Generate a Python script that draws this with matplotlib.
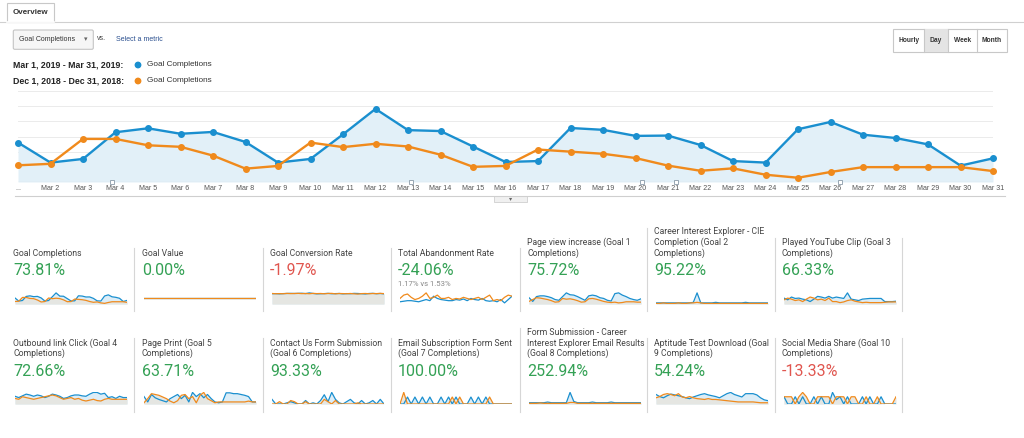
import matplotlib
matplotlib.use("Agg")
import matplotlib.pyplot as plt
from matplotlib.patches import Rectangle, FancyBboxPatch, Circle

W, H = 1024, 438
BLUE = '#1a8fcf'
ORANGE = '#f08a1c'
GREEN = '#34a155'
RED = '#e0564f'

plt.rcParams['font.family'] = ['Liberation Sans', 'DejaVu Sans']

# ---- main chart data (goal completions per day) ----
days = list(range(1, 32))
day_labels = ['...'] + ['Mar %d' % d for d in range(2, 32)]
mar_2019 = [13, 6.4, 7.6, 16.4, 17.7, 15.9, 16.5, 13.2, 6.4, 7.6, 15.7, 24.1, 17.1, 16.8, 11.7, 6.6,
            6.9, 17.8, 17.2, 15.2, 15.3, 12.2, 6.9, 6.4, 17.4, 19.8, 15.6, 14.5, 12.4, 5.4, 7.8]
dec_2018 = [5.5, 6, 14.2, 14.2, 12.1, 11.6, 8.7, 4.4, 5.3, 13, 11.5, 12.6, 11.7, 9, 5, 5.3,
            10.7, 10, 9.3, 7.9, 5.4, 3.7, 4.5, 2.4, 1.4, 3.3, 4.9, 4.9, 4.9, 4.9, 3.6]
annotation_days = [3.9, 13.1, 20.2, 21.25, 26.3]

# ---- scorecards ----
card_titles = [
    'Goal Completions', 'Goal Value', 'Goal Conversion Rate', 'Total Abandonment Rate',
    'Page view increase (Goal 1\nCompletions)',
    'Career Interest Explorer - CIE\nCompletion (Goal 2\nCompletions)',
    'Played YouTube Clip (Goal 3\nCompletions)',
    'Outbound link Click (Goal 4\nCompletions)',
    'Page Print (Goal 5\nCompletions)',
    'Contact Us Form Submission\n(Goal 6 Completions)',
    'Email Subscription Form Sent\n(Goal 7 Completions)',
    'Form Submission - Career\nInterest Explorer Email Results\n(Goal 8 Completions)',
    'Aptitude Test Download (Goal\n9 Completions)',
    'Social Media Share (Goal 10\nCompletions)',
]
card_changes = ['73.81%', '0.00%', '-1.97%', '-24.06%', '75.72%', '95.22%', '66.33%',
                '72.66%', '63.71%', '93.33%', '100.00%', '252.94%', '54.24%', '-13.33%']
card_good = [True, True, False, True, True, True, True,
             True, True, True, True, True, True, False]
abandon_note = '1.17% vs 1.53%'

# sparkline series (current month / previous period)
value_mar = [0] * 31
value_dec = [0] * 31
conv_mar = [8.6, 8.7, 8.5, 8.7, 8.8, 8.9, 8.8, 8.9, 9.0, 8.7, 9.3, 8.8, 8.5, 8.6, 8.7, 8.9,
            8.6, 8.7, 8.8, 8.5, 8.7, 8.6, 8.9, 8.8, 8.6, 8.4, 8.8, 8.9, 8.6, 8.8, 8.5]
conv_dec = [8.8, 8.6, 8.7, 8.6, 8.9, 8.7, 8.8, 8.9, 8.7, 8.8, 8.6, 8.9, 8.7, 8.8, 8.6, 8.8,
            8.9, 8.5, 8.8, 8.7, 8.6, 8.8, 8.5, 8.3, 8.7, 8.8, 8.6, 8.8, 8.7, 8.9, 8.7]
aband_mar = [2, 2.5, 3, 3, 2.5, 2, 3, 4, 3, 7, 5, 4, 3.5, 3, 3, 4,
             3.5, 4.5, 3, 5, 4, 3.5, 5, 3, 2.5, 3, 2, 4, 1, 4, 7]
aband_dec = [5, 8, 9, 6, 4, 5, 7, 10, 5, 6, 8, 5, 5, 6, 4, 5,
             4.5, 6, 5, 4, 5, 6, 4, 6, 8, 3, 4, 3, 6, 8, 7]
g1_mar = [17, 7, 20, 22, 22, 20, 17, 12, 10, 20, 30, 25, 24, 20, 15, 10,
          22, 24, 22, 17, 15, 10, 8, 28, 30, 24, 20, 15, 12, 10, 14]
g1_dec = [7, 12, 17, 16, 14, 12, 9, 5, 6, 15, 13, 14, 12, 9, 5, 6,
          14, 15, 13, 10, 7, 5, 4, 5, 3, 4, 6, 6, 6, 5, 5]
g2_mar = [1, 1, 1, 1, 1, 1, 1, 1, 1, 1, 1.5, 10, 1, 1, 1, 1,
          1.5, 1, 1, 1, 1, 1, 1, 1, 1.5, 1, 1, 1, 1, 1, 1]
g2_dec = [0.5, 0.5, 1, 0.5, 0.5, 0.5, 1, 0.5, 0.5, 1, 1, 1.5, 1, 0.5, 0.5, 0.5,
          0.5, 0.5, 0.5, 0.5, 0.5, 0.5, 0.5, 0.5, 0.5, 0.5, 0.5, 0.5, 0.5, 0.5, 0.5]
g3_mar = [17, 12, 20, 16, 17, 14, 12, 7, 14, 22, 20, 17, 22, 17, 20, 18,
          16, 32, 14, 12, 10, 14, 15, 16, 16, 16, 16, 7, 7, 7, 8]
g3_dec = [12, 17, 14, 10, 12, 7, 14, 20, 17, 12, 14, 10, 17, 7, 7, 4,
          6, 10, 12, 8, 6, 4, 5, 4, 4, 4, 4, 5, 6, 6, 6]
g4_mar = [18, 15, 19, 23, 21, 18, 21, 19, 15, 18, 23, 21, 18, 13, 15, 19,
          21, 21, 19, 18, 23, 27, 27, 23, 25, 15, 17, 13, 18, 15, 15]
g4_dec = [13, 11, 17, 15, 13, 11, 13, 15, 17, 19, 21, 19, 15, 11, 13, 15,
          11, 13, 9, 7, 9, 11, 8, 7, 11, 13, 11, 11, 11, 11, 11]
g5_mar = [18, 5, 23, 15, 11, 8, 5, 13, 18, 23, 13, 21, 5, 28, 18, 25,
          15, 23, 13, 5, 3, 5, 27, 27, 25, 25, 23, 21, 18, 5, 5]
g5_dec = [3, 13, 25, 23, 21, 17, 13, 7, 3, 8, 21, 23, 13, 18, 3, 21,
          28, 13, 8, 3, 5, 5, 5, 5, 5, 5, 5, 5, 7, 5, 5]
g6_mar = [4, 0, 0, 0, 1, 2, 1, 0, 0, 3, 0, 1, 0, 3, 8, 2,
          10, 4, 1, 0, 2, 4, 1, 0, 3, 0, 1, 3, 0, 4, 0]
g6_dec = [0, 0, 2, 0, 0, 3, 2, 0, 0, 2, 0, 0, 0, 0, 4, 2,
          0, 3, 0, 0, 0, 0, 0, 1, 0, 0, 0, 0, 0, 0, 0]
g7_mar = [0, 0, 6, 0, 6, 0, 6, 0, 6, 0, 0, 6, 0, 6, 0, 6,
          0, 0, 0, 6, 0, 6, 0, 6, 0, 0, 0, 0, 0, 0, 0]
g7_dec = [0, 10, 0, 0, 0, 0, 0, 0, 0, 0, 0, 0, 0, 0, 6, 0,
          6, 0, 0, 0, 0, 0, 0, 0, 6, 0, 0, 0, 0, 0, 0]
g8_mar = [1, 1, 1, 1, 1, 1.5, 1, 1, 1, 1, 1, 9, 2, 1, 1, 1,
          1, 1.5, 1, 1, 1, 1, 1.5, 1, 1, 1, 1, 1, 1, 1, 1]
g8_dec = [0.5, 0.5, 0.5, 0.8, 0.5, 0.5, 0.5, 0.5, 0.5, 0.5, 0.5, 1.2, 1.2, 0.5, 0.5, 0.5,
          0.5, 0.5, 0.5, 0.5, 0.5, 0.5, 0.5, 0.5, 0.5, 0.5, 0.5, 0.5, 0.5, 0.5, 0.5]
g9_mar = [23, 18, 15, 20, 24, 22, 20, 18, 15, 13, 17, 20, 23, 25, 22, 20,
          18, 15, 20, 25, 28, 23, 20, 17, 25, 25, 25, 22, 15, 10, 8]
g9_dec = [15, 18, 23, 25, 23, 20, 25, 17, 15, 18, 15, 13, 12, 11, 13, 11,
          11, 10, 9, 8, 7, 6, 5, 5, 5, 5, 5, 4, 3, 3, 3]
g10_mar = [5, 0, 0, 5, 0, 5, 0, 0, 5, 0, 5, 0, 0, 8, 3, 5,
           0, 5, 0, 0, 0, 5, 0, 5, 0, 0, 5, 0, 0, 0, 0]
g10_dec = [5, 5, 5, 0, 5, 8, 5, 0, 0, 5, 5, 5, 5, 0, 5, 5,
           5, 0, 5, 5, 0, 0, 5, 0, 0, 5, 0, 0, 0, 0, 5]

spark_pairs = [
    (mar_2019, dec_2018), (value_mar, value_dec), (conv_mar, conv_dec), (aband_mar, aband_dec),
    (g1_mar, g1_dec), (g2_mar, g2_dec), (g3_mar, g3_dec),
    (g4_mar, g4_dec), (g5_mar, g5_dec), (g6_mar, g6_dec), (g7_mar, g7_dec),
    (g8_mar, g8_dec), (g9_mar, g9_dec), (g10_mar, g10_dec),
]


def fig_box(x0, y0, x1, y1):
    # pixel box (top-left origin) -> figure fraction rect
    return [x0 / W, 1 - y1 / H, (x1 - x0) / W, (y1 - y0) / H]


fig = plt.figure(figsize=(W / 100, H / 100), dpi=100)
fig.patch.set_facecolor('white')

# background axis in pixel units for the page chrome
bg = fig.add_axes([0, 0, 1, 1])
bg.set_xlim(0, W)
bg.set_ylim(H, 0)
bg.axis('off')

# tab
bg.plot([0, W], [21.7, 21.7], color='#d0d0d0', lw=0.8)
bg.add_patch(Rectangle((6.7, 3.3), 47.6, 18.4, fc='white', ec='#c8c8c8', lw=0.8))
bg.plot([7.2, 53.8], [21.7, 21.7], color='white', lw=1.2)
bg.text(30.5, 13, 'Overview', fontsize=5.8, fontweight='bold', color='#333', ha='center', va='center')

# metric selector
bg.add_patch(FancyBboxPatch((13.3, 30), 80, 19.3, boxstyle='round,pad=0,rounding_size=1.5',
                            fc='#f6f6f6', ec='#c4c4c4', lw=0.8))
bg.text(19, 39.8, 'Goal Completions', fontsize=5, color='#333', va='center')
bg.text(86, 39.5, '\u25be', fontsize=5, color='#666', ha='center', va='center', family='DejaVu Sans')
bg.text(97, 39, 'vs.', fontsize=5, color='#444', va='center')
bg.text(116, 39.8, 'Select a metric', fontsize=5, color='#2a4f8f', va='center')

# legend
for yy, period, col in [(65, 'Mar 1, 2019 - Mar 31, 2019:', BLUE), (81, 'Dec 1, 2018 - Dec 31, 2018:', ORANGE)]:
    bg.text(13, yy, period, fontsize=6.3, fontweight='bold', color='#222', va='center')
    bg.add_patch(Circle((138, yy), 2.7, color=col))
    bg.text(147, yy, 'Goal Completions', fontsize=5.9, color='#333', va='center')

# period buttons
bg.add_patch(Rectangle((893.3, 29), 113.4, 23, fc='white', ec='#c8c8c8', lw=0.8))
bg.add_patch(Rectangle((924.3, 29), 23.4, 23, fc='#e4e4e4', ec='none'))
for xx in [924.3, 947.7, 976.7]:
    bg.plot([xx, xx], [29, 52], color='#c8c8c8', lw=0.8)
for xx, lab in [(908.8, 'Hourly'), (936, 'Day'), (962.2, 'Week'), (991.7, 'Month')]:
    bg.text(xx, 40.5, lab, fontsize=4.8, fontweight='bold', color='#333', ha='center', va='center')

# bottom rule of the chart + expander tab
bg.plot([15, 1005], [196, 196], color='#cfcfcf', lw=0.8)
bg.add_patch(Rectangle((494, 196), 33, 6, fc='#f0f0f0', ec='#cfcfcf', lw=0.6))
bg.text(510.5, 199, '\u25be', fontsize=4.5, color='#666', ha='center', va='center', family='DejaVu Sans')

# ---- main line chart ----
ax = fig.add_axes(fig_box(18, 91, 993, 182))
ax.set_facecolor('none')
ax.set_xlim(1, 31)
ax.set_ylim(0, 30)
for gy in range(5, 31, 5):
    ax.axhline(gy, color='#ebebeb', lw=0.7, zorder=0)
ax.fill_between(days, mar_2019, color='#e2f0f8', zorder=1, lw=0)
ax.axhline(0, color='#c4c4c4', lw=0.8, zorder=2)
ax.plot(days, mar_2019, color=BLUE, lw=1.7, marker='o', ms=4, clip_on=False, zorder=3)
ax.plot(days, dec_2018, color=ORANGE, lw=1.7, marker='o', ms=4, clip_on=False, zorder=4)
ax.plot(annotation_days, [0] * len(annotation_days), 's', ms=3.3, mfc='white', mec='#8a9aa8',
        mew=0.6, clip_on=False, zorder=5)
ax.set_xticks(days)
ax.set_xticklabels(day_labels)
ax.tick_params(axis='x', length=0, pad=2.5, labelsize=5.1, labelcolor='#555')
ax.set_yticks([])
for s in ax.spines.values():
    s.set_visible(False)

# ---- scorecards ----
card_x = [13, 142, 270, 398, 527, 654, 782]
sep_x = [134.3, 262.7, 390.7, 520, 647.3, 775, 902.3]
rows = [
    # title bottom, value baseline, spark top, spark bottom, separator tops, separator bottom
    dict(title=257.5, value=275.3, s0=292, s1=304, tops=[248, 248, 248, 248, 228, 238, 238], bot=311),
    dict(title=358.5, value=375.5, s0=391.5, s1=404, tops=[338, 338, 338, 328, 338, 338, 338], bot=412),
]

for r, row in enumerate(rows):
    for xx, top in zip(sep_x, row['tops']):
        bg.plot([xx, xx], [top, row['bot']], color='#d6d6d6', lw=0.8)

for i, title in enumerate(card_titles):
    row = rows[i // 7]
    x0 = card_x[i % 7]
    bg.text(x0, row['title'], title, fontsize=6.2, color='#444', va='bottom', ha='left',
            family='Roboto', linespacing=1.18)
    bg.text(x0, row['value'], card_changes[i], fontsize=11.5, color=GREEN if card_good[i] else RED,
            va='baseline', ha='left', family='Roboto')
    if i == 3:
        bg.text(x0, 283.7, abandon_note, fontsize=5.6, color='#888', va='center', family='Roboto')

    cur, prev = spark_pairs[i]
    sp = fig.add_axes(fig_box(x0 + 2, row['s0'], x0 + 114, row['s1']))
    sp.set_facecolor('none')
    sp.axis('off')
    sp.set_xlim(1, 31)
    top = max(max(cur), max(prev))
    if top == 0:
        sp.set_ylim(-1, 1)
    else:
        sp.set_ylim(0, top * 1.08)
        if i != 3:
            sp.fill_between(days, cur, color='#dcedf7', lw=0)
            sp.fill_between(days, prev, color='#e5e6e2', lw=0)
    sp.plot(days, cur, color=BLUE, lw=0.9)
    sp.plot(days, prev, color=ORANGE, lw=0.9)

fig.savefig('out.png', dpi=100, facecolor='white')
